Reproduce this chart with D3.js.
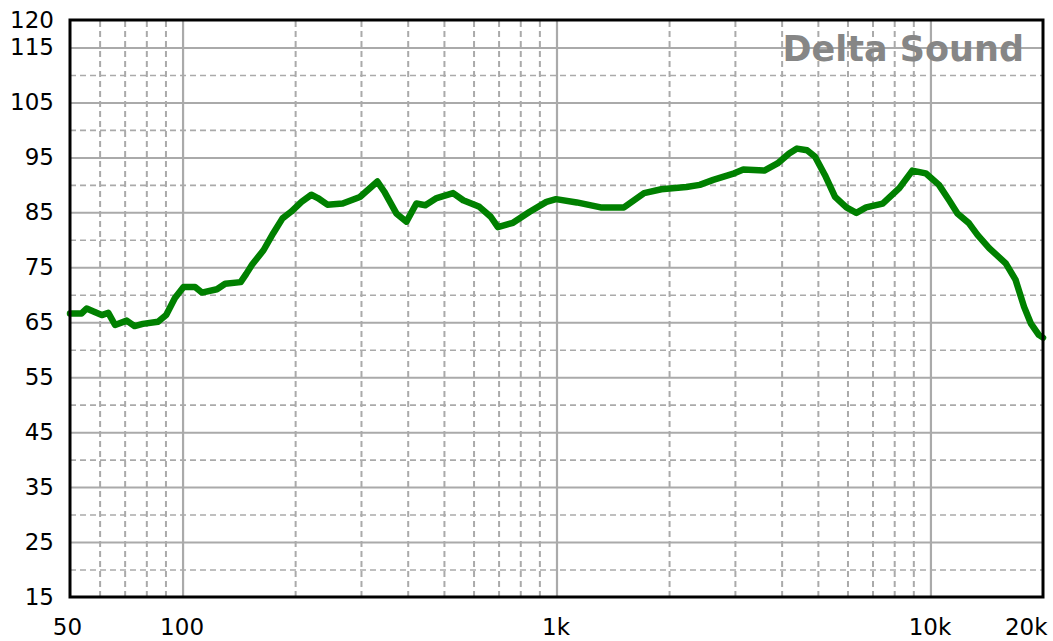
<!DOCTYPE html>
<html>
<head>
<meta charset="utf-8">
<script src="https://cdn.jsdelivr.net/npm/d3@7"></script>
<style>
  html, body { margin: 0; padding: 0; background: #fff; }
  svg { display: block; }
  text { font-family: "DejaVu Sans", sans-serif; }
</style>
</head>
<body>
<svg id="chart" width="1053" height="641"></svg>
<script>
// ---- data ----
const freqHz = [50, 53.7, 55.4, 58, 60.8, 63.3, 66, 70.9, 74.4, 78.3, 86, 90.4, 95.4, 100.6, 108, 112.6, 123.6, 130, 143, 148, 153.5, 164.6, 174.8, 185, 195, 208, 221, 230, 244, 268, 298, 332, 346, 373, 397, 422, 446, 478, 529, 563, 622, 667, 697, 765, 848, 940, 997, 1133, 1313, 1515, 1715, 1907, 2225, 2416, 2625, 2988, 3159, 3595, 3899, 4189, 4398, 4677, 4915, 5220, 5558, 5960, 6338, 6730, 7453, 8257, 8946, 9713, 10538, 11218, 11811, 12683, 13360, 14356, 15900, 16896, 17801, 18550, 19485, 20000];
const splDb = [66.6, 66.6, 67.5, 66.9, 66.3, 66.7, 64.5, 65.3, 64.3, 64.7, 65.1, 66.3, 69.4, 71.4, 71.4, 70.4, 71.0, 72.0, 72.3, 73.8, 75.5, 78.1, 81.2, 83.9, 85.1, 86.9, 88.2, 87.6, 86.4, 86.6, 87.8, 90.6, 88.8, 84.8, 83.3, 86.6, 86.3, 87.6, 88.5, 87.2, 86.0, 84.2, 82.3, 83.1, 85.1, 86.9, 87.4, 86.8, 85.9, 85.9, 88.5, 89.2, 89.6, 90.0, 90.9, 92.1, 92.8, 92.6, 93.9, 95.7, 96.6, 96.3, 95.1, 91.8, 87.8, 85.9, 84.9, 85.9, 86.6, 89.4, 92.6, 92.1, 90.0, 87.2, 84.8, 83.0, 80.9, 78.5, 75.7, 72.7, 67.8, 64.8, 62.7, 62.2];

const yTickLabels = [15, 25, 35, 45, 55, 65, 75, 85, 95, 105, 115, 120];
const ySolidGrid = [25, 35, 45, 55, 65, 75, 85, 95, 105, 115];
const yDashedGrid = [20, 30, 40, 50, 60, 70, 80, 90, 100, 110];
const xTickValues = [50, 100, 1000, 10000, 20000];
const xTickLabels = ["50", "100", "1k", "10k", "20k"];
const xSolidGrid = [100, 1000, 10000];
const xDashedGrid = [60, 70, 80, 90, 200, 300, 400, 500, 600, 700, 800, 900, 2000, 3000, 4000, 5000, 6000, 7000, 8000, 9000];
const brandText = "Delta Sound";

// ---- layout ----
const plotLeft = 70, plotRight = 1043, plotTop = 20, plotBottom = 597;
const svg = d3.select("#chart");

const x = d3.scaleLog().domain([50, 20000]).range([plotLeft, plotRight]);
const y = d3.scaleLinear().domain([15, 120]).range([plotBottom, plotTop]);

const gridColor = "#aaaaaa";

// horizontal grid (solid)
svg.append("g")
  .attr("transform", `translate(${plotLeft},0)`)
  .call(d3.axisLeft(y).tickValues(ySolidGrid).tickSize(-(plotRight - plotLeft)).tickFormat(""))
  .call(g => g.select(".domain").remove())
  .call(g => g.selectAll("line").attr("stroke", gridColor).attr("stroke-width", 2));

// horizontal grid (dashed)
svg.append("g")
  .attr("transform", `translate(${plotLeft},0)`)
  .call(d3.axisLeft(y).tickValues(yDashedGrid).tickSize(-(plotRight - plotLeft)).tickFormat(""))
  .call(g => g.select(".domain").remove())
  .call(g => g.selectAll("line").attr("stroke", gridColor).attr("stroke-width", 1.6).attr("stroke-dasharray", "6,4"));

// vertical grid (solid)
svg.append("g")
  .attr("transform", `translate(0,${plotBottom})`)
  .call(d3.axisBottom(x).tickValues(xSolidGrid).tickSize(-(plotBottom - plotTop)).tickFormat(""))
  .call(g => g.select(".domain").remove())
  .call(g => g.selectAll("line").attr("stroke", gridColor).attr("stroke-width", 2.2));

// vertical grid (dashed)
svg.append("g")
  .attr("transform", `translate(0,${plotBottom})`)
  .call(d3.axisBottom(x).tickValues(xDashedGrid).tickSize(-(plotBottom - plotTop)).tickFormat(""))
  .call(g => g.select(".domain").remove())
  .call(g => g.selectAll("line").attr("stroke", gridColor).attr("stroke-width", 2).attr("stroke-dasharray", "6,4"));

// brand text
svg.append("text")
  .attr("x", 1024).attr("y", 61)
  .attr("text-anchor", "end")
  .attr("font-size", 35).attr("font-weight", "bold")
  .attr("fill", "#868686")
  .text(brandText);

// curve
const line = d3.line()
  .x((d, i) => x(freqHz[i]))
  .y(d => y(d))
  .curve(d3.curveLinear);

svg.append("path")
  .datum(splDb)
  .attr("fill", "none")
  .attr("stroke", "#008000")
  .attr("stroke-width", 6.5)
  .attr("stroke-linejoin", "round")
  .attr("stroke-linecap", "round")
  .attr("d", line);

// frame
svg.append("rect")
  .attr("x", plotLeft).attr("y", plotTop)
  .attr("width", plotRight - plotLeft).attr("height", plotBottom - plotTop)
  .attr("fill", "none").attr("stroke", "#000").attr("stroke-width", 3);

// y axis labels
svg.append("g")
  .attr("transform", `translate(${plotLeft},0)`)
  .call(d3.axisLeft(y).tickValues(yTickLabels).tickSize(0).tickPadding(16).tickFormat(d3.format("d")))
  .call(g => g.select(".domain").remove())
  .call(g => g.selectAll("text")
    .attr("font-family", "DejaVu Sans, sans-serif")
    .attr("font-size", 23)
    .attr("fill", "#000"));

// x axis labels
svg.append("g")
  .attr("transform", `translate(0,${plotBottom})`)
  .call(d3.axisBottom(x).tickValues(xTickValues).tickSize(0).tickPadding(22)
    .tickFormat((d, i) => xTickLabels[i]))
  .call(g => g.select(".domain").remove())
  .call(g => g.selectAll("text")
    .attr("font-family", "DejaVu Sans, sans-serif")
    .attr("font-size", 23)
    .attr("fill", "#000")
    .attr("text-anchor", (d, i) => i === xTickValues.length - 1 ? "end" : "middle")
    .attr("dx", (d, i) => i === xTickValues.length - 1 ? "4" : (i === 0 ? "-3" : "-1")));
</script>
</body>
</html>
